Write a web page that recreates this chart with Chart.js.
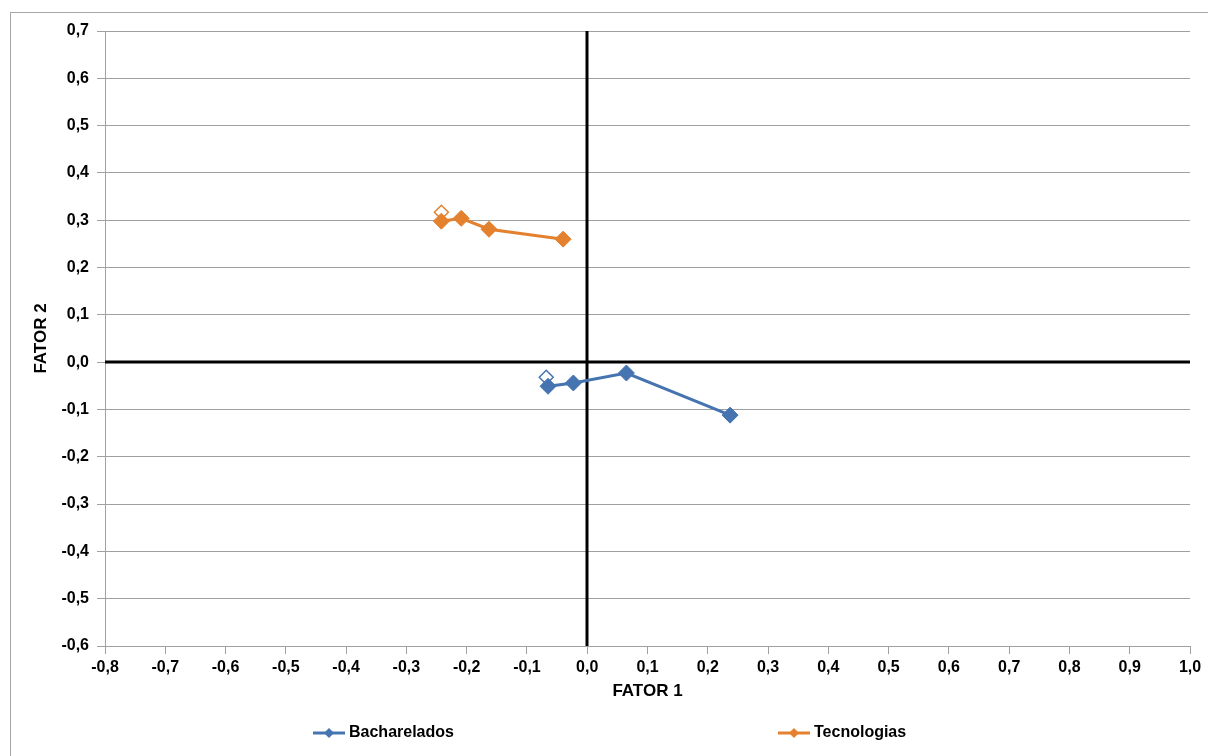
<!DOCTYPE html>
<html>
<head>
<meta charset="utf-8">
<script src="https://cdn.jsdelivr.net/npm/chart.js@4.4.1/dist/chart.umd.min.js"></script>
<style>
    html, body { margin: 0; padding: 0; background: #fff; }
    #wrap { width: 1208px; height: 756px; }
</style>
</head>
<body>
<div id="wrap"><canvas id="chart" width="1208" height="756"></canvas></div>
<script>
// values
const seriesNames = ["Bacharelados", "Tecnologias"];
const bachX = [-0.068, -0.065, -0.023, 0.065, 0.237];
const bachY = [-0.032, -0.051, -0.044, -0.023, -0.112];
const tecX = [-0.242, -0.242, -0.209, -0.163, -0.040];
const tecY = [0.317, 0.298, 0.304, 0.281, 0.260];
const xTitle = "FATOR 1";
const yTitle = "FATOR 2";

const blue = "#4674B0";
const orange = "#E3812F";
const font = "'Liberation Sans', Arial, sans-serif";

function toPoints(xs, ys) {
    return xs.map((x, i) => ({ x: x, y: ys[i] }));
}

function fmt(v) {
    return (Math.round(v * 10) / 10).toFixed(1).replace(".", ",").replace("-0,0", "0,0");
}

// first point of each series is drawn hollow
function makeSet(label, color, xs, ys) {
    return {
        label: label,
        data: toPoints(xs, ys),
        showLine: true,
        borderColor: color,
        borderWidth: 3,
        pointStyle: "rectRot",
        pointRadius: xs.map((_, i) => i === 0 ? 7 : 8),
        pointBackgroundColor: xs.map((_, i) => i === 0 ? "#fff" : color),
        pointBorderColor: color,
        pointBorderWidth: xs.map((_, i) => i === 0 ? 1.5 : 1),
    };
}

const framePlugin = {
    id: "frame",
    beforeDraw(chart) {
        const ctx = chart.ctx;
        ctx.save();
        ctx.strokeStyle = "#a6a6a6";
        ctx.lineWidth = 1;
        ctx.strokeRect(10.5, 12.5, 1400, 900);
        ctx.restore();
    },
    beforeDatasetsDraw(chart) {
        // black axes crossing at zero
        const ctx = chart.ctx;
        const xs = chart.scales.x, ys = chart.scales.y;
        const a = chart.chartArea;
        const x0 = Math.round(xs.getPixelForValue(0));
        const y0 = Math.round(ys.getPixelForValue(0));
        ctx.save();
        ctx.strokeStyle = "#000";
        ctx.lineWidth = 3;
        ctx.beginPath();
        ctx.moveTo(x0, a.top);
        ctx.lineTo(x0, a.bottom);
        ctx.moveTo(a.left, y0);
        ctx.lineTo(a.right, y0);
        ctx.stroke();
        ctx.restore();
    },
    afterDraw(chart) {
        // legend
        const ctx = chart.ctx;
        const items = [
            { name: seriesNames[0], color: blue, x: 313 },
            { name: seriesNames[1], color: orange, x: 778 },
        ];
        const y = 733;
        ctx.save();
        ctx.font = "bold 16px " + font;
        ctx.textBaseline = "middle";
        items.forEach(it => {
            ctx.strokeStyle = it.color;
            ctx.lineWidth = 3;
            ctx.beginPath();
            ctx.moveTo(it.x, y);
            ctx.lineTo(it.x + 32, y);
            ctx.stroke();
            ctx.fillStyle = it.color;
            ctx.beginPath();
            ctx.moveTo(it.x + 16, y - 5);
            ctx.lineTo(it.x + 21, y);
            ctx.lineTo(it.x + 16, y + 5);
            ctx.lineTo(it.x + 11, y);
            ctx.closePath();
            ctx.fill();
            ctx.fillStyle = "#000";
            ctx.fillText(it.name, it.x + 36, y);
        });
        ctx.restore();
    }
};

new Chart(document.getElementById("chart").getContext("2d"), {
    type: "scatter",
    data: {
        datasets: [
            makeSet(seriesNames[0], blue, bachX, bachY),
            makeSet(seriesNames[1], orange, tecX, tecY),
        ],
    },
    options: {
        responsive: false,
        animation: false,
        layout: { padding: { left: 31, top: 31, right: 18, bottom: 54 } },
        plugins: {
            legend: { display: false },
            tooltip: { enabled: false },
        },
        scales: {
            x: {
                type: "linear",
                min: -0.8,
                max: 1.0,
                afterFit(s) { s.height = 56; },
                ticks: {
                    stepSize: 0.1,
                    color: "#000",
                    font: { family: font, size: 16, weight: "bold" },
                    padding: 4,
                    maxRotation: 0,
                    autoSkip: false,
                    callback: v => fmt(v),
                },
                grid: {
                    drawOnChartArea: false,
                    drawTicks: true,
                    tickLength: 8,
                    color: "#a0a0a0",
                },
                border: { color: "#a0a0a0", width: 1 },
                title: {
                    display: true,
                    text: xTitle,
                    color: "#000",
                    font: { family: font, size: 17, weight: "bold" },
                    padding: { top: 2, bottom: 0 },
                    align: "center",
                },
            },
            y: {
                type: "linear",
                min: -0.6,
                max: 0.7,
                afterFit(s) { s.width = 74; },
                ticks: {
                    stepSize: 0.1,
                    color: "#000",
                    font: { family: font, size: 16, weight: "bold" },
                    padding: 8,
                    autoSkip: false,
                    callback: v => fmt(v),
                },
                grid: {
                    color: "#a0a0a0",
                    lineWidth: 1,
                    drawTicks: true,
                    tickLength: 8,
                },
                border: { color: "#a0a0a0", width: 1 },
                title: {
                    display: true,
                    text: yTitle,
                    color: "#000",
                    font: { family: font, size: 17, weight: "bold" },
                    padding: { top: 0, bottom: 6 },
                },
            },
        },
    },
    plugins: [framePlugin],
});
</script>
</body>
</html>
